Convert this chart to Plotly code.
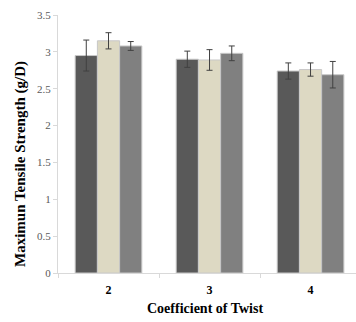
import plotly.graph_objects as go

categories = ["2", "3", "4"]
series_a = [2.95, 2.90, 2.74]
series_a_err = [0.21, 0.11, 0.11]
series_b = [3.15, 2.89, 2.76]
series_b_err = [0.11, 0.14, 0.09]
series_c = [3.08, 2.98, 2.69]
series_c_err = [0.06, 0.10, 0.18]
colors = ["#595959", "#ddd9c3", "#808080"]

fig = go.Figure()
for vals, errs, col in [(series_a, series_a_err, colors[0]),
                        (series_b, series_b_err, colors[1]),
                        (series_c, series_c_err, colors[2])]:
    fig.add_trace(go.Bar(
        x=categories, y=vals,
        marker=dict(color=col, line=dict(color="#c8c8c8", width=1)),
        error_y=dict(type="data", array=errs, color="#404040", thickness=1, width=3),
        showlegend=False,
    ))

W, H = 356, 322
L, T, B, R = 58, 15, 49, 0
pw = W - L - R
ph = H - T - B

fig.update_layout(
    width=W, height=H,
    margin=dict(l=L, r=R, t=T, b=B),
    paper_bgcolor="white", plot_bgcolor="white",
    barmode="group", bargap=0.34, bargroupgap=0,
    font=dict(family="Liberation Serif, Times New Roman, serif"),
    xaxis=dict(
        range=[-0.5, 2.45], showline=True, linecolor="#d9d9d9", linewidth=1,
        ticks="outside", tickson="boundaries", ticklen=4, tickcolor="#d9d9d9",
        showgrid=False, zeroline=False, ticklabelstandoff=6,
        tickfont=dict(family="Liberation Serif", size=12, color="#000000", weight="bold"),
    ),
    yaxis=dict(
        range=[0, 3.5], dtick=0.5, showline=True, linecolor="#d9d9d9", linewidth=1,
        ticks="outside", ticklen=4, tickcolor="#d9d9d9", showgrid=False, zeroline=False,
        tickfont=dict(family="Liberation Serif", size=11, color="#595959"),
    ),
    annotations=[
        dict(text="<b>Maximun Tensile Strength (g/D)</b>", textangle=-90,
             xref="paper", yref="paper", x=(20 - L) / pw, y=(H - B - 164) / ph,
             xanchor="center", yanchor="middle", showarrow=False,
             font=dict(family="Liberation Serif", size=15, color="#000000")),
        dict(text="<b>Coefficient of Twist</b>",
             xref="paper", yref="paper", x=(205 - L) / pw, y=(H - B - 308) / ph,
             xanchor="center", yanchor="middle", showarrow=False,
             font=dict(family="Liberation Serif", size=14, color="#000000")),
    ],
)

fig.write_html("out.html")
